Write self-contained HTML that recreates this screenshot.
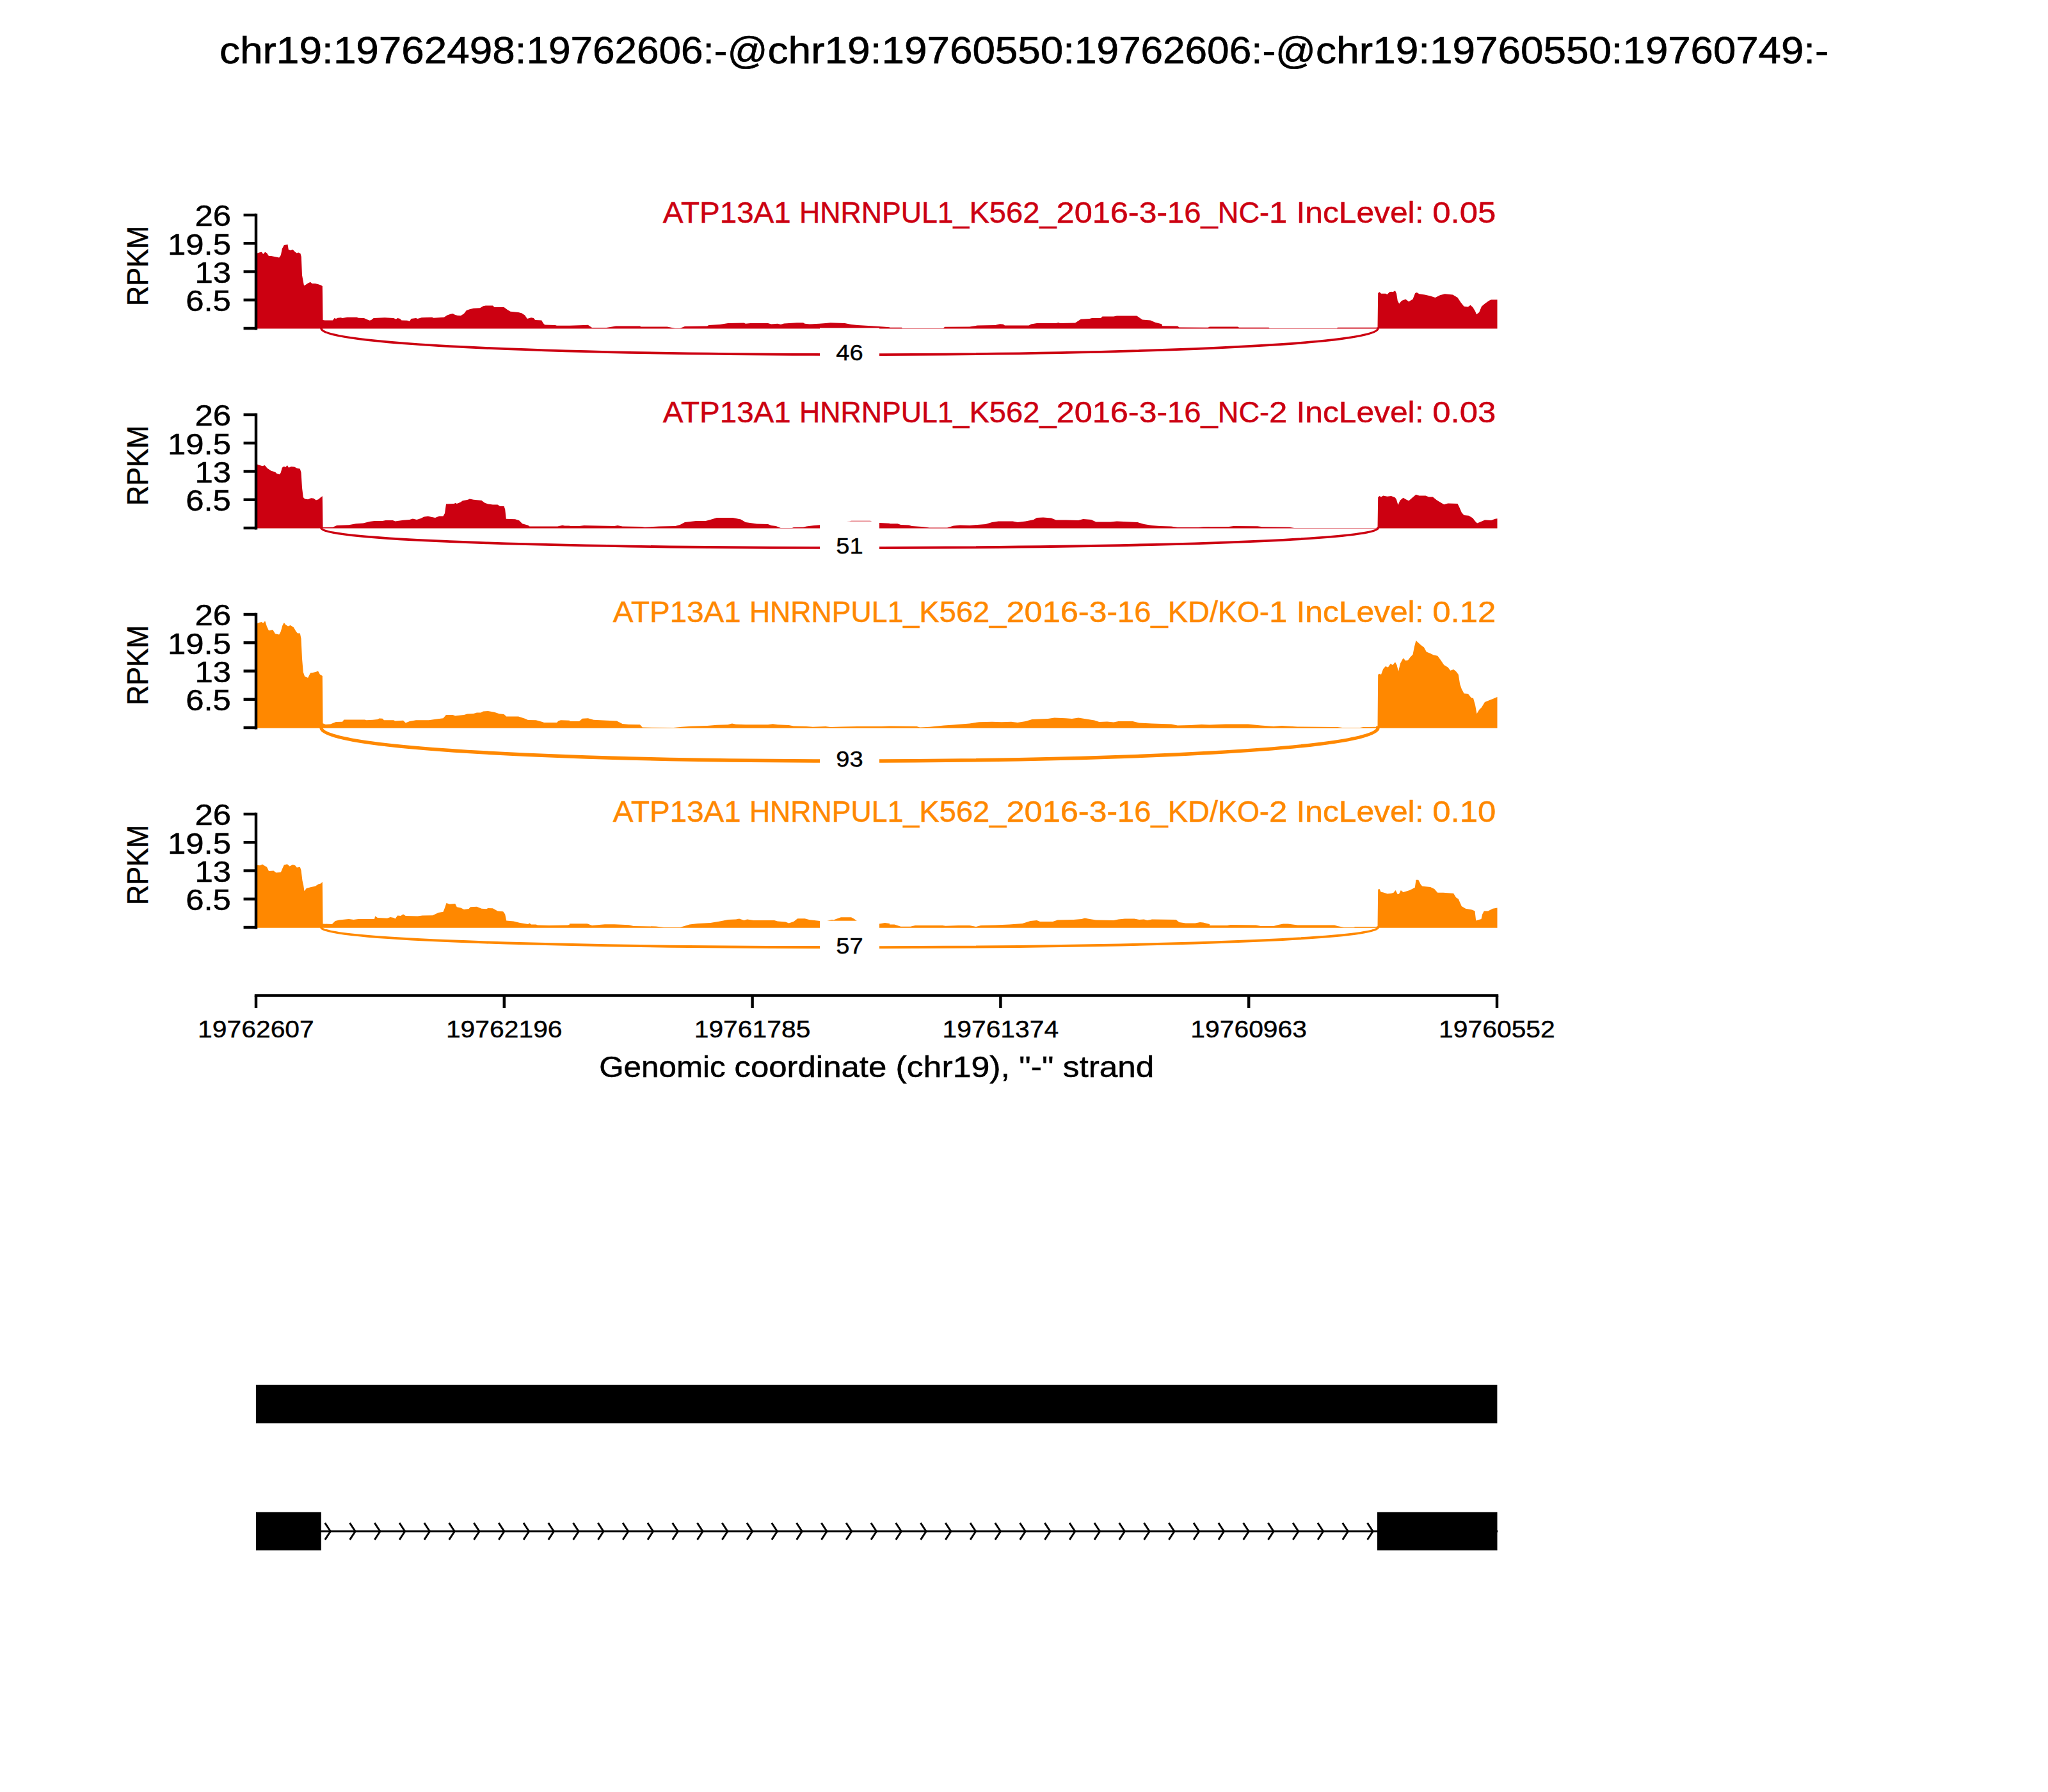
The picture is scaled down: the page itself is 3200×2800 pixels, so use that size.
<!DOCTYPE html>
<html lang="en">
<head>
<meta charset="utf-8">
<title>Sashimi plot chr19:19760550-19762606</title>
<style>
html,body{margin:0;padding:0;background:#fff}
body{width:3200px;height:2800px;overflow:hidden}
svg{display:block;font-family:"Liberation Sans",sans-serif}
text{white-space:pre}
</style>
</head>
<body>
<svg width="3200" height="2800" viewBox="0 0 3200 2800">
<rect width="3200" height="2800" fill="#fff"/>
<text y="99.0" font-size="58.87" fill="#000" stroke="#000" stroke-width="0.67"><tspan x="342.9" textLength="178.0" lengthAdjust="spacingAndGlyphs">chr19:</tspan><tspan x="520.9" textLength="301.5" lengthAdjust="spacingAndGlyphs">19762498:</tspan><tspan x="822.4" textLength="377.1" lengthAdjust="spacingAndGlyphs">19762606:-@</tspan><tspan x="1199.5" textLength="178.0" lengthAdjust="spacingAndGlyphs">chr19:</tspan><tspan x="1377.5" textLength="301.5" lengthAdjust="spacingAndGlyphs">19760550:</tspan><tspan x="1679.0" textLength="377.1" lengthAdjust="spacingAndGlyphs">19762606:-@</tspan><tspan x="2056.1" textLength="178.0" lengthAdjust="spacingAndGlyphs">chr19:</tspan><tspan x="2234.1" textLength="301.5" lengthAdjust="spacingAndGlyphs">19760550:</tspan><tspan x="2535.6" textLength="321.5" lengthAdjust="spacingAndGlyphs">19760749:-</tspan></text>
<path d="M400.0,513.6L400.0,396.2L405.0,394.5L408.8,393.8L411.2,397.0L414.2,393.8L417.0,395.5L420.0,400.0L423.8,400.0L430.0,401.2L436.2,402.5L438.8,398.8L440.8,388.8L443.8,383.0L447.0,382.5L449.5,382.0L450.8,390.0L453.8,391.2L457.5,390.0L461.2,393.8L463.8,395.5L466.2,394.5L469.5,396.2L470.8,401.2L472.0,430.0L475.0,446.2L477.5,445.0L481.2,442.5L485.0,440.8L487.5,443.0L492.5,443.0L497.5,444.2L501.2,445.5L503.8,447.0L504.5,500.0L507.5,500.5L520.0,500.5L522.5,497.0L525.0,498.0L527.5,496.8L532.5,496.2L535.0,497.0L542.5,495.8L557.5,495.8L560.0,496.8L568.8,497.0L572.5,498.8L577.5,500.8L580.0,500.0L583.8,497.0L601.2,496.2L615.0,497.0L618.8,498.8L621.2,497.0L625.0,498.0L627.5,500.5L636.2,500.8L640.0,502.0L642.5,498.0L650.0,497.0L652.5,498.0L658.8,496.2L675.0,495.8L677.5,496.8L693.8,495.8L698.8,492.5L703.8,490.8L707.5,490.0L711.2,492.0L715.0,493.0L720.0,493.2L725.0,490.0L728.8,485.0L733.8,483.2L740.0,481.8L750.0,481.2L755.0,478.2L758.8,477.5L770.0,477.5L772.5,480.0L787.5,480.0L792.5,483.8L797.5,486.8L810.0,488.0L815.0,489.2L820.0,492.5L823.8,498.0L830.0,496.2L833.8,497.0L836.2,500.0L846.2,500.5L848.8,505.0L851.2,507.5L867.5,508.0L870.0,508.8L890.0,508.8L890.0,508.8L905.0,508.2L918.8,507.8L925.0,512.0L947.5,512.0L962.5,509.5L1000.0,509.5L1001.2,510.5L1042.5,510.5L1055.0,513.0L1062.5,513.0L1070.0,510.0L1105.0,509.5L1107.5,508.0L1125.0,507.0L1137.5,505.0L1162.5,504.5L1165.0,505.8L1172.5,505.0L1200.0,505.0L1205.0,506.5L1215.0,505.8L1220.0,507.0L1225.0,505.5L1245.0,504.2L1255.0,504.2L1257.5,505.8L1265.0,506.5L1280.0,505.8L1290.0,505.0L1297.5,504.2L1320.0,505.0L1330.0,507.0L1340.0,508.0L1365.0,509.5L1380.0,510.5L1390.0,511.2L1390.0,511.8L1408.8,511.8L1410.0,513.0L1473.8,513.0L1476.2,510.8L1515.0,510.5L1527.5,508.5L1555.0,508.0L1562.5,506.2L1567.5,506.8L1570.0,508.5L1607.5,508.5L1611.2,506.5L1620.0,505.0L1650.0,505.0L1653.8,504.0L1656.2,505.0L1680.0,504.5L1688.8,498.8L1702.5,498.0L1706.2,497.0L1720.0,497.0L1722.5,494.5L1740.0,494.5L1745.0,493.5L1776.2,493.5L1785.0,499.5L1797.5,500.5L1805.0,503.8L1815.0,506.2L1816.2,509.2L1840.0,509.5L1842.5,511.5L1887.5,511.8L1890.0,510.5L1890.0,510.5L1933.8,510.5L1936.2,511.8L1982.5,511.8L1983.8,513.0L2088.8,513.0L2090.0,511.8L2152.5,511.8L2153.2,458.0L2155.5,456.2L2158.0,458.8L2165.0,458.8L2167.5,460.0L2171.2,456.2L2173.8,455.8L2176.2,456.2L2180.0,454.2L2182.0,458.8L2183.8,470.0L2186.2,474.5L2190.0,470.0L2196.2,467.5L2201.2,471.2L2207.5,467.5L2211.2,458.0L2213.8,457.0L2217.5,459.2L2226.2,460.5L2235.0,462.5L2242.5,465.0L2250.0,461.2L2257.5,459.2L2270.0,460.5L2277.5,465.0L2282.5,472.5L2287.5,478.8L2293.8,479.5L2297.5,476.8L2301.2,480.0L2305.0,486.2L2307.0,491.2L2311.2,488.0L2315.0,478.8L2320.0,474.5L2326.2,470.0L2330.0,468.2L2339.5,468.2L2339.5,513.6Z" fill="#CC0011"/>
<path d="M502.0,513.3C502.0,567.6 2153.0,567.6 2153.0,513.3" fill="none" stroke="#CC0011" stroke-width="3.75" stroke-linecap="square"/>
<rect x="1281.0" y="512.5" width="93" height="76.6" fill="#fff"/>
<text y="563.4" font-size="35.32" fill="#000" stroke="#000" stroke-width="0.40"><tspan x="1306.3" textLength="42.4" lengthAdjust="spacingAndGlyphs">46</tspan></text>
<path d="M400.0,333.78V515.52" stroke="#000" stroke-width="4.44" fill="none"/>
<path d="M380.56,336.00H400.0" stroke="#000" stroke-width="4.44" fill="none"/>
<text y="353.4" font-size="47.09" fill="#000" stroke="#000" stroke-width="0.53"><tspan x="304.4" textLength="56.6" lengthAdjust="spacingAndGlyphs">26</tspan></text>
<path d="M380.56,380.25H400.0" stroke="#000" stroke-width="4.44" fill="none"/>
<text y="397.6" font-size="47.09" fill="#000" stroke="#000" stroke-width="0.53"><tspan x="262.0" textLength="99.0" lengthAdjust="spacingAndGlyphs">19.5</tspan></text>
<path d="M380.56,424.50H400.0" stroke="#000" stroke-width="4.44" fill="none"/>
<text y="441.9" font-size="47.09" fill="#000" stroke="#000" stroke-width="0.53"><tspan x="304.4" textLength="56.6" lengthAdjust="spacingAndGlyphs">13</tspan></text>
<path d="M380.56,468.75H400.0" stroke="#000" stroke-width="4.44" fill="none"/>
<text y="486.1" font-size="47.09" fill="#000" stroke="#000" stroke-width="0.53"><tspan x="290.2" textLength="70.7" lengthAdjust="spacingAndGlyphs">6.5</tspan></text>
<path d="M380.56,513.00H400.0" stroke="#000" stroke-width="4.44" fill="none"/>
<text y="0.0" font-size="47.09" fill="#000" stroke="#000" stroke-width="0.53" transform="translate(231,415.5) rotate(-90)"><tspan x="-62.6" textLength="125.2" lengthAdjust="spacingAndGlyphs">RPKM</tspan></text>
<text y="348.2" font-size="47.09" fill="#CC0011" stroke="#CC0011" stroke-width="0.53"><tspan x="1035.7" textLength="213.3" lengthAdjust="spacingAndGlyphs">ATP13A1 </tspan><tspan x="1249.0" textLength="265.4" lengthAdjust="spacingAndGlyphs">HNRNPUL1_</tspan><tspan x="1514.4" textLength="136.2" lengthAdjust="spacingAndGlyphs">K562_</tspan><tspan x="1650.6" textLength="129.1" lengthAdjust="spacingAndGlyphs">2016-</tspan><tspan x="1779.7" textLength="44.3" lengthAdjust="spacingAndGlyphs">3-</tspan><tspan x="1824.0" textLength="78.8" lengthAdjust="spacingAndGlyphs">16_</tspan><tspan x="1902.8" textLength="80.3" lengthAdjust="spacingAndGlyphs">NC-</tspan><tspan x="1983.1" textLength="42.4" lengthAdjust="spacingAndGlyphs">1 </tspan><tspan x="2025.5" textLength="212.8" lengthAdjust="spacingAndGlyphs">IncLevel: </tspan><tspan x="2238.3" textLength="99.0" lengthAdjust="spacingAndGlyphs">0.05</tspan></text>
<path d="M400.0,825.6L400.0,725.0L406.2,727.0L410.0,728.2L413.8,727.0L417.5,731.5L423.8,735.8L430.0,737.5L432.5,740.0L437.0,741.2L438.8,738.2L440.8,730.8L443.8,728.8L446.2,730.0L448.8,727.0L451.2,730.8L455.0,729.0L460.0,729.5L463.8,731.5L468.8,732.5L470.5,738.2L472.0,762.0L473.8,777.0L476.2,779.5L481.2,780.2L486.2,778.2L490.0,778.8L493.8,781.5L497.5,780.2L501.2,777.0L503.8,775.2L504.5,824.0L520.0,823.8L526.2,821.0L545.0,820.2L556.2,818.2L567.5,817.5L577.5,815.0L585.0,814.0L597.5,814.0L602.5,813.0L613.8,813.0L617.5,814.5L630.0,812.8L640.0,812.0L645.0,810.5L651.2,812.0L657.5,810.0L662.5,807.5L668.8,806.5L673.8,807.8L680.0,809.0L686.2,806.5L692.5,806.5L695.0,802.0L697.0,787.5L710.0,787.0L711.2,785.8L713.8,787.0L720.0,784.5L722.5,782.5L731.2,780.8L733.8,779.5L740.0,780.8L752.5,782.0L757.5,785.8L762.5,787.5L770.0,788.5L777.5,788.5L781.2,791.0L787.5,791.0L789.2,795.8L790.8,810.8L805.0,811.2L811.2,813.2L816.2,818.2L825.0,820.8L827.5,822.5L871.2,822.5L878.8,820.8L882.5,821.5L890.0,821.5L890.0,822.0L905.0,822.0L912.5,821.0L960.0,822.0L965.0,821.0L972.5,822.5L1002.5,823.0L1007.5,823.8L1030.0,822.5L1055.0,822.0L1062.5,820.0L1070.0,816.0L1087.5,814.0L1102.5,814.0L1110.0,812.0L1120.0,809.0L1145.0,809.0L1157.5,811.5L1165.0,816.0L1182.5,818.5L1200.0,819.0L1205.0,821.0L1212.5,822.0L1220.0,825.0L1237.5,825.0L1240.0,824.0L1255.0,823.8L1260.0,822.5L1272.5,821.0L1281.2,820.2L1290.0,818.2L1327.5,814.5L1330.0,813.8L1360.0,813.8L1362.5,815.0L1373.8,817.0L1390.0,817.8L1390.0,818.2L1402.5,818.2L1407.5,820.0L1420.0,820.5L1425.0,822.0L1440.0,823.0L1452.5,824.5L1480.0,824.5L1490.0,821.5L1500.0,820.5L1515.0,821.0L1540.0,819.0L1550.0,816.0L1560.0,814.5L1582.5,814.5L1590.0,816.0L1602.5,814.5L1615.0,812.0L1620.0,809.0L1630.0,808.5L1642.5,809.5L1650.0,812.5L1665.0,812.5L1685.0,813.0L1692.5,811.0L1705.0,812.0L1712.5,815.5L1735.0,815.5L1745.0,814.5L1777.5,816.0L1787.5,819.0L1800.0,821.0L1812.5,822.0L1830.0,822.5L1840.0,824.0L1872.5,824.0L1880.0,823.2L1890.0,823.0L1890.0,823.2L1920.0,823.0L1927.5,822.0L1965.0,822.2L1972.5,823.2L2015.0,823.8L2022.5,825.0L2152.5,825.0L2153.2,777.0L2155.5,775.0L2158.0,776.5L2161.2,774.5L2167.5,775.8L2173.8,775.0L2180.0,777.5L2182.0,780.8L2184.5,789.0L2187.5,782.0L2192.5,777.8L2196.2,780.0L2201.2,782.5L2207.5,777.0L2212.5,772.8L2217.5,774.5L2227.5,774.5L2232.5,776.5L2238.8,776.5L2245.0,781.5L2251.2,785.2L2256.2,788.2L2262.5,786.5L2277.5,787.0L2280.0,792.0L2283.8,800.8L2287.5,805.0L2295.0,805.8L2301.2,809.5L2305.0,814.5L2308.0,817.5L2312.5,815.8L2320.0,812.5L2330.0,813.0L2336.2,810.8L2339.5,810.2L2339.5,825.6Z" fill="#CC0011"/>
<path d="M502.0,825.3C502.0,866.2 2153.0,866.2 2153.0,825.3" fill="none" stroke="#CC0011" stroke-width="3.85" stroke-linecap="square"/>
<rect x="1281.0" y="814.5" width="93" height="76.6" fill="#fff"/>
<text y="865.4" font-size="35.32" fill="#000" stroke="#000" stroke-width="0.40"><tspan x="1306.3" textLength="42.4" lengthAdjust="spacingAndGlyphs">51</tspan></text>
<path d="M400.0,645.78V827.52" stroke="#000" stroke-width="4.44" fill="none"/>
<path d="M380.56,648.00H400.0" stroke="#000" stroke-width="4.44" fill="none"/>
<text y="665.4" font-size="47.09" fill="#000" stroke="#000" stroke-width="0.53"><tspan x="304.4" textLength="56.6" lengthAdjust="spacingAndGlyphs">26</tspan></text>
<path d="M380.56,692.25H400.0" stroke="#000" stroke-width="4.44" fill="none"/>
<text y="709.6" font-size="47.09" fill="#000" stroke="#000" stroke-width="0.53"><tspan x="262.0" textLength="99.0" lengthAdjust="spacingAndGlyphs">19.5</tspan></text>
<path d="M380.56,736.50H400.0" stroke="#000" stroke-width="4.44" fill="none"/>
<text y="753.9" font-size="47.09" fill="#000" stroke="#000" stroke-width="0.53"><tspan x="304.4" textLength="56.6" lengthAdjust="spacingAndGlyphs">13</tspan></text>
<path d="M380.56,780.75H400.0" stroke="#000" stroke-width="4.44" fill="none"/>
<text y="798.1" font-size="47.09" fill="#000" stroke="#000" stroke-width="0.53"><tspan x="290.2" textLength="70.7" lengthAdjust="spacingAndGlyphs">6.5</tspan></text>
<path d="M380.56,825.00H400.0" stroke="#000" stroke-width="4.44" fill="none"/>
<text y="0.0" font-size="47.09" fill="#000" stroke="#000" stroke-width="0.53" transform="translate(231,727.5) rotate(-90)"><tspan x="-62.6" textLength="125.2" lengthAdjust="spacingAndGlyphs">RPKM</tspan></text>
<text y="660.2" font-size="47.09" fill="#CC0011" stroke="#CC0011" stroke-width="0.53"><tspan x="1035.7" textLength="213.3" lengthAdjust="spacingAndGlyphs">ATP13A1 </tspan><tspan x="1249.0" textLength="265.4" lengthAdjust="spacingAndGlyphs">HNRNPUL1_</tspan><tspan x="1514.4" textLength="136.2" lengthAdjust="spacingAndGlyphs">K562_</tspan><tspan x="1650.6" textLength="129.1" lengthAdjust="spacingAndGlyphs">2016-</tspan><tspan x="1779.7" textLength="44.3" lengthAdjust="spacingAndGlyphs">3-</tspan><tspan x="1824.0" textLength="78.8" lengthAdjust="spacingAndGlyphs">16_</tspan><tspan x="1902.8" textLength="80.3" lengthAdjust="spacingAndGlyphs">NC-</tspan><tspan x="1983.1" textLength="42.4" lengthAdjust="spacingAndGlyphs">2 </tspan><tspan x="2025.5" textLength="212.8" lengthAdjust="spacingAndGlyphs">IncLevel: </tspan><tspan x="2238.3" textLength="99.0" lengthAdjust="spacingAndGlyphs">0.03</tspan></text>
<path d="M400.0,1137.7L400.0,974.5L405.0,972.8L408.8,972.0L411.2,973.5L414.2,970.2L417.0,979.0L420.0,985.2L426.2,984.0L430.0,990.2L436.2,991.5L438.8,986.5L441.2,977.8L443.8,972.8L446.2,976.0L450.0,978.5L453.8,977.0L458.8,980.2L462.5,986.5L465.0,989.5L468.8,989.5L470.5,997.8L472.0,1029.0L473.8,1050.2L476.2,1057.0L481.2,1059.0L485.0,1051.5L490.0,1050.8L493.8,1049.8L497.0,1048.5L500.0,1054.0L503.8,1056.0L504.5,1130.2L508.8,1132.0L516.2,1131.5L525.0,1128.0L535.0,1127.8L537.5,1124.5L570.0,1124.5L572.5,1125.2L582.5,1124.8L590.0,1124.0L592.5,1122.5L597.5,1122.8L600.0,1125.2L615.0,1125.2L617.5,1126.5L630.0,1125.8L633.8,1129.5L640.0,1127.0L650.0,1125.2L670.0,1125.2L682.5,1123.5L692.5,1122.2L697.0,1117.0L707.5,1117.0L711.2,1118.5L725.0,1117.0L730.0,1115.5L740.0,1115.0L745.0,1113.5L751.2,1113.5L755.0,1111.5L762.5,1111.0L772.5,1112.8L780.0,1115.2L787.5,1116.0L791.2,1119.5L810.0,1119.5L820.0,1122.8L825.0,1125.0L837.5,1125.2L847.5,1128.0L850.0,1129.0L870.0,1129.0L872.5,1126.5L876.2,1125.2L890.0,1125.8L890.0,1127.0L905.0,1127.0L910.0,1122.8L918.8,1122.2L927.5,1124.8L947.5,1125.8L963.8,1126.5L972.5,1131.0L982.5,1132.0L1000.0,1132.2L1003.8,1136.5L1052.5,1137.0L1065.0,1135.8L1080.0,1134.8L1105.0,1134.0L1120.0,1132.8L1137.5,1132.2L1143.8,1130.5L1150.0,1131.8L1165.0,1132.2L1200.0,1132.2L1207.5,1131.2L1215.0,1132.2L1232.5,1133.0L1240.0,1134.5L1260.0,1135.0L1270.0,1135.8L1290.0,1135.0L1297.5,1136.0L1315.0,1135.5L1340.0,1135.0L1377.5,1135.0L1390.0,1134.5L1390.0,1134.5L1432.5,1135.0L1437.5,1136.5L1452.5,1135.8L1475.0,1133.5L1490.0,1132.5L1515.0,1130.5L1530.0,1128.2L1550.0,1127.8L1565.0,1128.2L1580.0,1127.8L1590.0,1129.0L1602.5,1127.0L1612.5,1124.0L1637.5,1123.0L1647.5,1121.5L1665.0,1122.2L1675.0,1123.0L1685.0,1121.5L1697.5,1123.5L1710.0,1125.5L1717.5,1128.0L1730.0,1127.5L1740.0,1128.5L1747.5,1127.0L1770.0,1127.0L1780.0,1129.5L1800.0,1130.5L1830.0,1131.5L1840.0,1133.5L1860.0,1133.0L1877.5,1132.0L1890.0,1132.5L1890.0,1132.5L1915.0,1131.5L1950.0,1131.5L1970.0,1133.5L1990.0,1135.0L2002.5,1134.0L2027.5,1135.5L2090.0,1136.0L2097.5,1137.0L2125.0,1137.0L2130.0,1136.0L2152.5,1135.8L2153.2,1054.0L2155.5,1052.8L2158.0,1054.0L2161.2,1045.2L2165.0,1041.0L2168.8,1042.8L2172.5,1037.2L2176.2,1039.0L2180.0,1034.5L2182.5,1039.0L2185.0,1049.0L2188.0,1036.5L2192.5,1028.2L2196.2,1032.2L2200.0,1031.5L2203.8,1026.5L2207.5,1022.8L2210.0,1010.2L2212.5,1000.8L2215.0,1003.2L2220.0,1007.8L2225.0,1011.5L2228.8,1018.5L2235.0,1021.0L2240.0,1023.5L2246.2,1024.8L2251.2,1031.5L2256.2,1039.0L2262.5,1042.8L2266.2,1047.8L2271.2,1046.0L2275.0,1049.0L2278.8,1054.0L2281.2,1069.0L2283.8,1076.5L2287.5,1083.5L2293.8,1084.0L2298.8,1090.2L2302.0,1091.0L2305.0,1101.5L2307.5,1115.2L2311.2,1109.0L2315.0,1105.2L2320.0,1097.0L2326.2,1094.5L2332.5,1092.0L2339.5,1089.0L2339.5,1137.7Z" fill="#FF8800"/>
<path d="M502.0,1137.3C502.0,1206.2 2153.0,1206.2 2153.0,1137.3" fill="none" stroke="#FF8800" stroke-width="5.5" stroke-linecap="square"/>
<rect x="1281.0" y="1147.5" width="93" height="76.6" fill="#fff"/>
<text y="1198.4" font-size="35.32" fill="#000" stroke="#000" stroke-width="0.40"><tspan x="1306.3" textLength="42.4" lengthAdjust="spacingAndGlyphs">93</tspan></text>
<path d="M400.0,957.78V1139.52" stroke="#000" stroke-width="4.44" fill="none"/>
<path d="M380.56,960.00H400.0" stroke="#000" stroke-width="4.44" fill="none"/>
<text y="977.4" font-size="47.09" fill="#000" stroke="#000" stroke-width="0.53"><tspan x="304.4" textLength="56.6" lengthAdjust="spacingAndGlyphs">26</tspan></text>
<path d="M380.56,1004.25H400.0" stroke="#000" stroke-width="4.44" fill="none"/>
<text y="1021.6" font-size="47.09" fill="#000" stroke="#000" stroke-width="0.53"><tspan x="262.0" textLength="99.0" lengthAdjust="spacingAndGlyphs">19.5</tspan></text>
<path d="M380.56,1048.50H400.0" stroke="#000" stroke-width="4.44" fill="none"/>
<text y="1065.9" font-size="47.09" fill="#000" stroke="#000" stroke-width="0.53"><tspan x="304.4" textLength="56.6" lengthAdjust="spacingAndGlyphs">13</tspan></text>
<path d="M380.56,1092.75H400.0" stroke="#000" stroke-width="4.44" fill="none"/>
<text y="1110.2" font-size="47.09" fill="#000" stroke="#000" stroke-width="0.53"><tspan x="290.2" textLength="70.7" lengthAdjust="spacingAndGlyphs">6.5</tspan></text>
<path d="M380.56,1137.00H400.0" stroke="#000" stroke-width="4.44" fill="none"/>
<text y="0.0" font-size="47.09" fill="#000" stroke="#000" stroke-width="0.53" transform="translate(231,1039.5) rotate(-90)"><tspan x="-62.6" textLength="125.2" lengthAdjust="spacingAndGlyphs">RPKM</tspan></text>
<text y="972.2" font-size="47.09" fill="#FF8800" stroke="#FF8800" stroke-width="0.53"><tspan x="957.7" textLength="213.3" lengthAdjust="spacingAndGlyphs">ATP13A1 </tspan><tspan x="1170.9" textLength="265.4" lengthAdjust="spacingAndGlyphs">HNRNPUL1_</tspan><tspan x="1436.3" textLength="136.2" lengthAdjust="spacingAndGlyphs">K562_</tspan><tspan x="1572.5" textLength="129.1" lengthAdjust="spacingAndGlyphs">2016-</tspan><tspan x="1701.7" textLength="44.3" lengthAdjust="spacingAndGlyphs">3-</tspan><tspan x="1746.0" textLength="78.8" lengthAdjust="spacingAndGlyphs">16_</tspan><tspan x="1824.8" textLength="78.3" lengthAdjust="spacingAndGlyphs">KD/</tspan><tspan x="1903.1" textLength="80.0" lengthAdjust="spacingAndGlyphs">KO-</tspan><tspan x="1983.1" textLength="42.4" lengthAdjust="spacingAndGlyphs">1 </tspan><tspan x="2025.5" textLength="212.8" lengthAdjust="spacingAndGlyphs">IncLevel: </tspan><tspan x="2238.3" textLength="99.0" lengthAdjust="spacingAndGlyphs">0.12</tspan></text>
<path d="M400.0,1449.7L400.0,1351.5L406.2,1352.2L410.0,1350.5L413.8,1353.0L417.0,1354.8L420.0,1361.0L427.5,1360.5L431.2,1363.5L438.8,1363.0L441.2,1357.2L443.8,1351.5L448.8,1350.2L452.5,1353.5L457.5,1351.0L461.2,1352.2L463.8,1355.5L468.8,1354.8L470.5,1359.8L472.5,1376.0L474.2,1383.5L475.5,1392.2L478.8,1388.0L486.2,1386.0L492.5,1384.8L497.5,1381.5L501.2,1380.5L503.8,1378.0L504.5,1443.5L518.8,1444.0L523.8,1439.0L530.0,1437.5L545.0,1436.0L552.5,1437.0L560.0,1436.0L585.0,1436.0L586.2,1431.5L590.0,1434.0L605.0,1434.8L610.0,1433.0L615.0,1434.0L617.5,1435.5L621.2,1430.5L626.2,1431.0L630.0,1428.5L633.8,1431.0L652.5,1431.5L660.0,1430.5L676.2,1430.2L685.0,1426.0L692.5,1424.8L695.0,1418.5L697.5,1411.0L702.5,1412.8L711.2,1412.0L713.8,1417.2L720.0,1418.5L725.0,1421.0L732.5,1420.0L735.0,1417.2L745.0,1416.8L752.5,1419.8L760.0,1420.2L762.5,1419.0L770.0,1419.2L777.5,1423.5L786.2,1424.2L789.2,1428.5L791.2,1438.5L802.5,1439.5L812.5,1442.0L825.0,1444.0L827.5,1442.5L830.0,1444.5L837.5,1444.5L840.0,1445.5L857.5,1446.0L887.5,1445.5L890.0,1444.5L890.0,1443.2L917.5,1443.2L925.0,1446.0L945.0,1444.2L960.0,1444.2L982.5,1445.2L990.0,1447.0L1025.0,1447.5L1037.5,1449.0L1062.5,1449.0L1077.5,1444.5L1090.0,1443.0L1110.0,1442.0L1125.0,1439.5L1137.5,1437.0L1150.0,1436.5L1155.0,1435.5L1162.5,1438.0L1167.5,1436.5L1177.5,1438.0L1210.0,1438.0L1215.0,1439.5L1227.5,1440.5L1232.5,1442.5L1240.0,1440.0L1246.2,1435.2L1257.5,1435.2L1265.0,1437.2L1281.2,1439.0L1290.0,1439.5L1294.2,1438.5L1300.0,1437.0L1302.5,1437.5L1306.2,1436.0L1314.0,1433.2L1330.0,1433.2L1335.0,1436.0L1338.5,1438.8L1347.5,1441.0L1373.8,1443.5L1382.5,1442.0L1390.0,1443.0L1390.0,1444.5L1397.5,1444.5L1407.5,1447.8L1422.5,1447.8L1430.0,1446.0L1472.5,1446.0L1477.5,1446.8L1497.5,1446.0L1515.0,1446.0L1525.0,1448.0L1532.5,1446.0L1555.0,1445.5L1577.5,1444.5L1597.5,1443.0L1610.0,1439.0L1620.0,1438.0L1625.0,1440.0L1645.0,1440.0L1652.5,1437.5L1677.5,1437.0L1690.0,1436.0L1695.0,1434.5L1702.5,1436.0L1712.5,1437.5L1740.0,1438.0L1747.5,1436.5L1757.5,1435.5L1772.5,1435.5L1780.0,1437.0L1787.5,1436.5L1792.5,1438.0L1800.0,1436.5L1837.5,1437.0L1842.5,1441.0L1852.5,1442.5L1867.5,1442.5L1875.0,1441.0L1880.0,1441.5L1890.0,1444.0L1890.0,1446.0L1917.5,1446.0L1922.5,1445.0L1962.5,1445.5L1970.0,1447.0L1990.0,1447.0L1997.5,1445.0L2005.0,1443.5L2012.5,1443.5L2027.5,1445.5L2085.0,1445.5L2090.0,1447.0L2100.0,1449.0L2115.0,1449.0L2117.5,1448.0L2152.5,1448.0L2153.2,1389.8L2155.5,1389.0L2157.5,1393.5L2162.5,1394.8L2167.5,1396.5L2173.8,1396.0L2177.5,1394.8L2180.5,1391.0L2183.8,1397.2L2186.2,1396.5L2188.8,1391.0L2192.5,1394.0L2196.2,1393.0L2202.5,1391.0L2207.5,1388.5L2210.8,1386.8L2212.5,1374.8L2216.2,1374.8L2220.0,1382.2L2222.5,1384.8L2235.0,1386.0L2241.2,1389.0L2246.2,1394.8L2255.0,1394.8L2265.0,1395.5L2271.2,1396.0L2275.0,1402.2L2278.8,1404.8L2283.8,1416.0L2290.0,1419.8L2300.0,1421.5L2304.5,1423.5L2306.2,1438.5L2310.0,1437.2L2314.5,1436.0L2316.2,1428.5L2318.8,1423.5L2325.0,1423.5L2332.5,1419.8L2339.5,1418.5L2339.5,1449.7Z" fill="#FF8800"/>
<path d="M502.0,1449.3C502.0,1490.5 2153.0,1490.5 2153.0,1449.3" fill="none" stroke="#FF8800" stroke-width="4.05" stroke-linecap="square"/>
<rect x="1281.0" y="1438.7" width="93" height="76.6" fill="#fff"/>
<text y="1489.6" font-size="35.32" fill="#000" stroke="#000" stroke-width="0.40"><tspan x="1306.3" textLength="42.4" lengthAdjust="spacingAndGlyphs">57</tspan></text>
<path d="M400.0,1269.78V1451.52" stroke="#000" stroke-width="4.44" fill="none"/>
<path d="M380.56,1272.00H400.0" stroke="#000" stroke-width="4.44" fill="none"/>
<text y="1289.4" font-size="47.09" fill="#000" stroke="#000" stroke-width="0.53"><tspan x="304.4" textLength="56.6" lengthAdjust="spacingAndGlyphs">26</tspan></text>
<path d="M380.56,1316.25H400.0" stroke="#000" stroke-width="4.44" fill="none"/>
<text y="1333.7" font-size="47.09" fill="#000" stroke="#000" stroke-width="0.53"><tspan x="262.0" textLength="99.0" lengthAdjust="spacingAndGlyphs">19.5</tspan></text>
<path d="M380.56,1360.50H400.0" stroke="#000" stroke-width="4.44" fill="none"/>
<text y="1377.9" font-size="47.09" fill="#000" stroke="#000" stroke-width="0.53"><tspan x="304.4" textLength="56.6" lengthAdjust="spacingAndGlyphs">13</tspan></text>
<path d="M380.56,1404.75H400.0" stroke="#000" stroke-width="4.44" fill="none"/>
<text y="1422.2" font-size="47.09" fill="#000" stroke="#000" stroke-width="0.53"><tspan x="290.2" textLength="70.7" lengthAdjust="spacingAndGlyphs">6.5</tspan></text>
<path d="M380.56,1449.00H400.0" stroke="#000" stroke-width="4.44" fill="none"/>
<text y="0.0" font-size="47.09" fill="#000" stroke="#000" stroke-width="0.53" transform="translate(231,1351.5) rotate(-90)"><tspan x="-62.6" textLength="125.2" lengthAdjust="spacingAndGlyphs">RPKM</tspan></text>
<text y="1284.2" font-size="47.09" fill="#FF8800" stroke="#FF8800" stroke-width="0.53"><tspan x="957.7" textLength="213.3" lengthAdjust="spacingAndGlyphs">ATP13A1 </tspan><tspan x="1170.9" textLength="265.4" lengthAdjust="spacingAndGlyphs">HNRNPUL1_</tspan><tspan x="1436.3" textLength="136.2" lengthAdjust="spacingAndGlyphs">K562_</tspan><tspan x="1572.5" textLength="129.1" lengthAdjust="spacingAndGlyphs">2016-</tspan><tspan x="1701.7" textLength="44.3" lengthAdjust="spacingAndGlyphs">3-</tspan><tspan x="1746.0" textLength="78.8" lengthAdjust="spacingAndGlyphs">16_</tspan><tspan x="1824.8" textLength="78.3" lengthAdjust="spacingAndGlyphs">KD/</tspan><tspan x="1903.1" textLength="80.0" lengthAdjust="spacingAndGlyphs">KO-</tspan><tspan x="1983.1" textLength="42.4" lengthAdjust="spacingAndGlyphs">2 </tspan><tspan x="2025.5" textLength="212.8" lengthAdjust="spacingAndGlyphs">IncLevel: </tspan><tspan x="2238.3" textLength="99.0" lengthAdjust="spacingAndGlyphs">0.10</tspan></text>
<path d="M397.78,1555.5H2341.22" stroke="#000" stroke-width="4.44" fill="none"/>
<path d="M400.00,1555.5V1574.94" stroke="#000" stroke-width="4.44" fill="none"/>
<text y="1620.8" font-size="37.83" fill="#000" stroke="#000" stroke-width="0.43"><tspan x="309.1" textLength="181.7" lengthAdjust="spacingAndGlyphs">19762607</tspan></text>
<path d="M787.80,1555.5V1574.94" stroke="#000" stroke-width="4.44" fill="none"/>
<text y="1620.8" font-size="37.83" fill="#000" stroke="#000" stroke-width="0.43"><tspan x="696.9" textLength="181.7" lengthAdjust="spacingAndGlyphs">19762196</tspan></text>
<path d="M1175.60,1555.5V1574.94" stroke="#000" stroke-width="4.44" fill="none"/>
<text y="1620.8" font-size="37.83" fill="#000" stroke="#000" stroke-width="0.43"><tspan x="1084.7" textLength="181.7" lengthAdjust="spacingAndGlyphs">19761785</tspan></text>
<path d="M1563.40,1555.5V1574.94" stroke="#000" stroke-width="4.44" fill="none"/>
<text y="1620.8" font-size="37.83" fill="#000" stroke="#000" stroke-width="0.43"><tspan x="1472.5" textLength="181.7" lengthAdjust="spacingAndGlyphs">19761374</tspan></text>
<path d="M1951.20,1555.5V1574.94" stroke="#000" stroke-width="4.44" fill="none"/>
<text y="1620.8" font-size="37.83" fill="#000" stroke="#000" stroke-width="0.43"><tspan x="1860.3" textLength="181.7" lengthAdjust="spacingAndGlyphs">19760963</tspan></text>
<path d="M2339.00,1555.5V1574.94" stroke="#000" stroke-width="4.44" fill="none"/>
<text y="1620.8" font-size="37.83" fill="#000" stroke="#000" stroke-width="0.43"><tspan x="2248.1" textLength="181.7" lengthAdjust="spacingAndGlyphs">19760552</tspan></text>
<text y="1683.0" font-size="47.09" fill="#000" stroke="#000" stroke-width="0.53"><tspan x="936.2" textLength="211.3" lengthAdjust="spacingAndGlyphs">Genomic </tspan><tspan x="1147.5" textLength="251.9" lengthAdjust="spacingAndGlyphs">coordinate </tspan><tspan x="1399.4" textLength="261.4" lengthAdjust="spacingAndGlyphs">(chr19), &quot;-&quot; </tspan><tspan x="1660.8" textLength="142.5" lengthAdjust="spacingAndGlyphs">strand</tspan></text>
<rect x="399.9" y="2163.8" width="1939.5" height="60.2"/>
<rect x="400.0" y="2362.8" width="101.8" height="59.6"/>
<rect x="2152" y="2362.8" width="187.5" height="59.6"/>
<path d="M400.0,2392.7H2340.2" stroke="#000" stroke-width="2.90" fill="none"/>
<path d="M508.58,2380.80L516.34,2392.7L508.58,2404.60M547.36,2380.80L555.12,2392.7L547.36,2404.60M586.14,2380.80L593.90,2392.7L586.14,2404.60M624.92,2380.80L632.68,2392.7L624.92,2404.60M663.70,2380.80L671.46,2392.7L663.70,2404.60M702.48,2380.80L710.24,2392.7L702.48,2404.60M741.26,2380.80L749.02,2392.7L741.26,2404.60M780.04,2380.80L787.80,2392.7L780.04,2404.60M818.82,2380.80L826.58,2392.7L818.82,2404.60M857.60,2380.80L865.36,2392.7L857.60,2404.60M896.38,2380.80L904.14,2392.7L896.38,2404.60M935.16,2380.80L942.92,2392.7L935.16,2404.60M973.94,2380.80L981.70,2392.7L973.94,2404.60M1012.72,2380.80L1020.48,2392.7L1012.72,2404.60M1051.50,2380.80L1059.26,2392.7L1051.50,2404.60M1090.28,2380.80L1098.04,2392.7L1090.28,2404.60M1129.06,2380.80L1136.82,2392.7L1129.06,2404.60M1167.84,2380.80L1175.60,2392.7L1167.84,2404.60M1206.62,2380.80L1214.38,2392.7L1206.62,2404.60M1245.40,2380.80L1253.16,2392.7L1245.40,2404.60M1284.18,2380.80L1291.94,2392.7L1284.18,2404.60M1322.96,2380.80L1330.72,2392.7L1322.96,2404.60M1361.74,2380.80L1369.50,2392.7L1361.74,2404.60M1400.52,2380.80L1408.28,2392.7L1400.52,2404.60M1439.30,2380.80L1447.06,2392.7L1439.30,2404.60M1478.08,2380.80L1485.84,2392.7L1478.08,2404.60M1516.86,2380.80L1524.62,2392.7L1516.86,2404.60M1555.64,2380.80L1563.40,2392.7L1555.64,2404.60M1594.42,2380.80L1602.18,2392.7L1594.42,2404.60M1633.20,2380.80L1640.96,2392.7L1633.20,2404.60M1671.98,2380.80L1679.74,2392.7L1671.98,2404.60M1710.76,2380.80L1718.52,2392.7L1710.76,2404.60M1749.54,2380.80L1757.30,2392.7L1749.54,2404.60M1788.32,2380.80L1796.08,2392.7L1788.32,2404.60M1827.10,2380.80L1834.86,2392.7L1827.10,2404.60M1865.88,2380.80L1873.64,2392.7L1865.88,2404.60M1904.66,2380.80L1912.42,2392.7L1904.66,2404.60M1943.44,2380.80L1951.20,2392.7L1943.44,2404.60M1982.22,2380.80L1989.98,2392.7L1982.22,2404.60M2021.00,2380.80L2028.76,2392.7L2021.00,2404.60M2059.78,2380.80L2067.54,2392.7L2059.78,2404.60M2098.56,2380.80L2106.32,2392.7L2098.56,2404.60M2137.34,2380.80L2145.10,2392.7L2137.34,2404.60" stroke="#000" stroke-width="2.90" fill="none" stroke-linecap="square" stroke-linejoin="miter"/>
</svg>
</body>
</html>
